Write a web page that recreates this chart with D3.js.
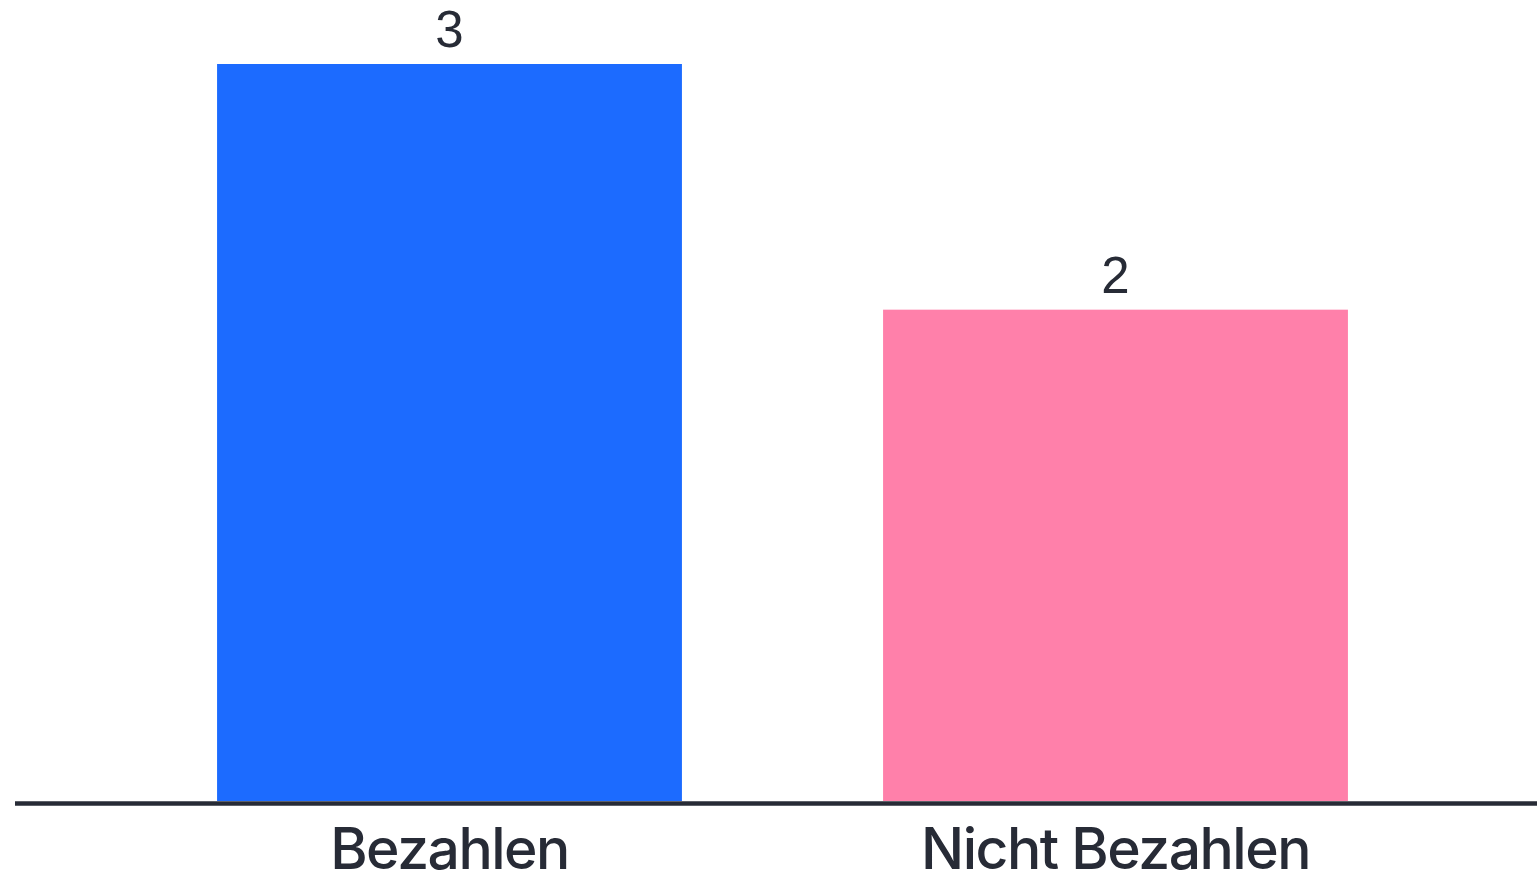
<!DOCTYPE html>
<html>
<head>
<meta charset="utf-8">
<script src="https://cdn.jsdelivr.net/npm/d3@7"></script>
<style>
  html,body{margin:0;padding:0;background:#fff;overflow:hidden;}
  #chart{width:1537px;height:876px;}
</style>
</head>
<body>
<div id="chart"></div>
<script>
// Bar chart: Bezahlen vs Nicht Bezahlen
const categories = ['Bezahlen', 'Nicht Bezahlen'];
const values = [3, 2];
const colors = ['#1c6bff', '#ff80aa'];

(function(){
  const w = 1537, h = 876;
  const svg = d3.select('#chart').append('svg').attr('width', w).attr('height', h);

  const x = d3.scaleBand().domain(categories).range([116.5, 1448.5]).paddingInner(0.302).paddingOuter(0.151);
  const y = d3.scaleLinear().domain([0, 3]).range([801, 64]);

  // bars
  svg.selectAll('rect.bar').data(categories).enter().append('rect')
    .attr('class', 'bar')
    .attr('x', d => x(d))
    .attr('width', x.bandwidth())
    .attr('y', (d, i) => y(values[i]))
    .attr('height', (d, i) => y(0) - y(values[i]))
    .attr('fill', (d, i) => colors[i]);

  // value labels
  svg.selectAll('text.val').data(categories).enter().append('text')
    .attr('class', 'val')
    .attr('x', d => x(d) + x.bandwidth() / 2)
    .attr('y', (d, i) => y(values[i]) - 17)
    .attr('text-anchor', 'middle')
    .attr('font-family', 'Liberation Sans, Arial, sans-serif')
    .attr('font-size', 51)
    .attr('fill', '#272b36')
    .text((d, i) => values[i]);

  // category labels under the baseline
  const xAxis = d3.axisBottom(x).tickSize(0).tickPadding(28);
  const ax = svg.append('g').attr('transform', `translate(0,${y(0)})`).call(xAxis);
  ax.select('.domain').remove();
  ax.selectAll('text')
    .attr('font-family', 'Inter, sans-serif')
    .attr('font-weight', 500)
    .attr('font-size', 57)
    .attr('letter-spacing', -1.5)
    .attr('fill', '#272b36')
    .attr('dy', '0.71em');

  // baseline
  svg.append('line')
    .attr('x1', 15).attr('x2', w)
    .attr('y1', y(0) + 2.5).attr('y2', y(0) + 2.5)
    .attr('stroke', '#272b36').attr('stroke-width', 4.5);
})();
</script>
</body>
</html>
